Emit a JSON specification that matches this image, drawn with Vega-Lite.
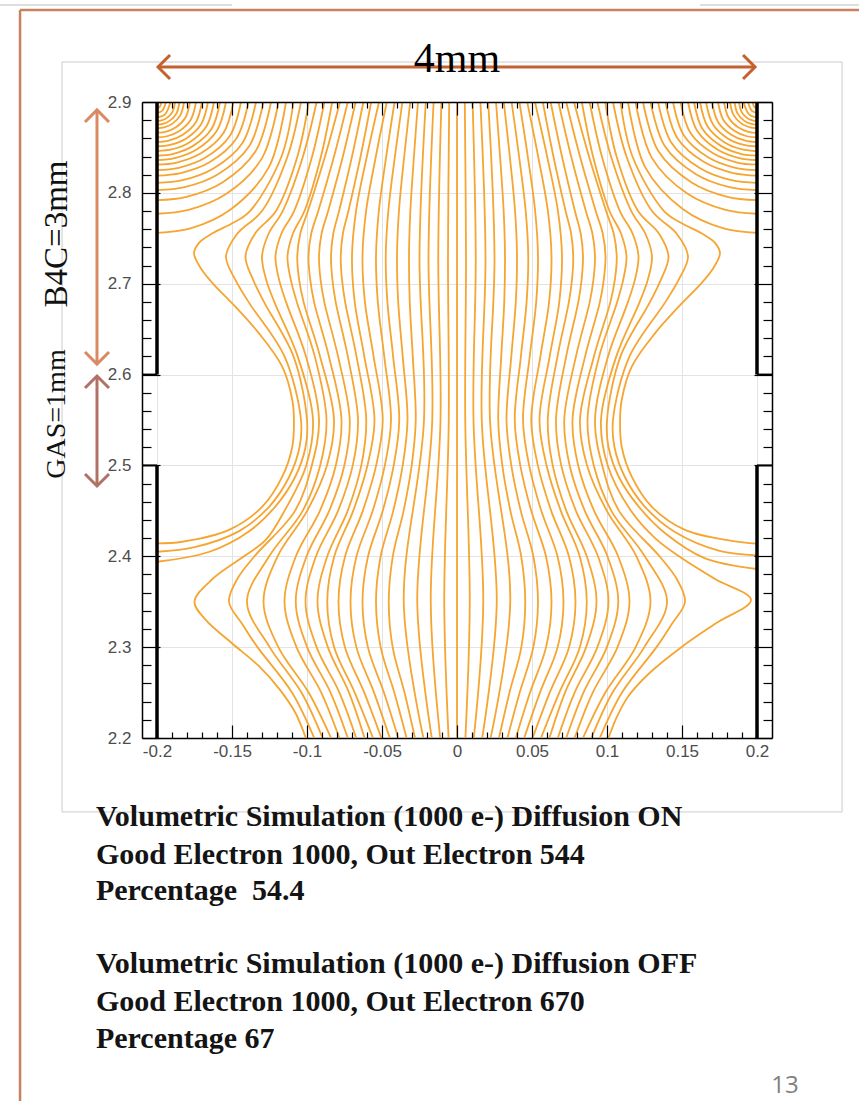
{
"$schema":"https://vega.github.io/schema/vega-lite/v6.json",
"width":630,"height":636,
"autosize":{"type":"none"},
"padding":{"left":142,"top":102,"right":87,"bottom":363},
"background":"#ffffff",
"config":{"view":{"stroke":null}},
"datasets":{"lines":[
{"s":0,"x":0,"y":2.9},{"s":0,"x":0,"y":2.2},
{"s":101,"x":-0.0052,"y":2.9},{"s":101,"x":-0.006,"y":2.73},{"s":101,"x":-0.0055,"y":2.55},{"s":101,"x":-0.0085,"y":2.35},{"s":101,"x":-0.0056,"y":2.2},
{"s":201,"x":0.0052,"y":2.9},{"s":201,"x":0.006,"y":2.73},{"s":201,"x":0.0055,"y":2.55},{"s":201,"x":0.0085,"y":2.35},{"s":201,"x":0.0056,"y":2.2},
{"s":102,"x":-0.0104,"y":2.9},{"s":102,"x":-0.0125,"y":2.73},{"s":102,"x":-0.011,"y":2.55},{"s":102,"x":-0.0175,"y":2.35},{"s":102,"x":-0.0112,"y":2.2},
{"s":202,"x":0.0104,"y":2.9},{"s":202,"x":0.0125,"y":2.73},{"s":202,"x":0.011,"y":2.55},{"s":202,"x":0.0175,"y":2.35},{"s":202,"x":0.0112,"y":2.2},
{"s":103,"x":-0.0156,"y":2.9},{"s":103,"x":-0.019,"y":2.73},{"s":103,"x":-0.0165,"y":2.55},{"s":103,"x":-0.0265,"y":2.35},{"s":103,"x":-0.0168,"y":2.2},
{"s":203,"x":0.0156,"y":2.9},{"s":203,"x":0.019,"y":2.73},{"s":203,"x":0.0165,"y":2.55},{"s":203,"x":0.0265,"y":2.35},{"s":203,"x":0.0168,"y":2.2},
{"s":104,"x":-0.0208,"y":2.9},{"s":104,"x":-0.025,"y":2.73},{"s":104,"x":-0.022,"y":2.55},{"s":104,"x":-0.0355,"y":2.35},{"s":104,"x":-0.0224,"y":2.2},
{"s":204,"x":0.0208,"y":2.9},{"s":204,"x":0.025,"y":2.73},{"s":204,"x":0.022,"y":2.55},{"s":204,"x":0.0355,"y":2.35},{"s":204,"x":0.0224,"y":2.2},
{"s":105,"x":-0.026,"y":2.9},{"s":105,"x":-0.0287,"y":2.84},{"s":105,"x":-0.0311,"y":2.78},{"s":105,"x":-0.032,"y":2.73},{"s":105,"x":-0.0315,"y":2.68},{"s":105,"x":-0.0295,"y":2.62},{"s":105,"x":-0.0275,"y":2.55},{"s":105,"x":-0.0302,"y":2.5},{"s":105,"x":-0.0356,"y":2.45},{"s":105,"x":-0.0428,"y":2.4},{"s":105,"x":-0.0455,"y":2.35},{"s":105,"x":-0.0429,"y":2.3},{"s":105,"x":-0.035,"y":2.25},{"s":105,"x":-0.028,"y":2.2},
{"s":205,"x":0.026,"y":2.9},{"s":205,"x":0.0287,"y":2.84},{"s":205,"x":0.0311,"y":2.78},{"s":205,"x":0.032,"y":2.73},{"s":205,"x":0.0315,"y":2.68},{"s":205,"x":0.0295,"y":2.62},{"s":205,"x":0.0275,"y":2.55},{"s":205,"x":0.0302,"y":2.5},{"s":205,"x":0.0356,"y":2.45},{"s":205,"x":0.0428,"y":2.4},{"s":205,"x":0.0455,"y":2.35},{"s":205,"x":0.0429,"y":2.3},{"s":205,"x":0.035,"y":2.25},{"s":205,"x":0.028,"y":2.2},
{"s":106,"x":-0.0312,"y":2.9},{"s":106,"x":-0.0352,"y":2.84},{"s":106,"x":-0.0387,"y":2.78},{"s":106,"x":-0.04,"y":2.73},{"s":106,"x":-0.0392,"y":2.68},{"s":106,"x":-0.0362,"y":2.62},{"s":106,"x":-0.033,"y":2.55},{"s":106,"x":-0.0362,"y":2.5},{"s":106,"x":-0.0425,"y":2.45},{"s":106,"x":-0.0509,"y":2.4},{"s":106,"x":-0.054,"y":2.35},{"s":106,"x":-0.0509,"y":2.3},{"s":106,"x":-0.0418,"y":2.25},{"s":106,"x":-0.0336,"y":2.2},
{"s":206,"x":0.0312,"y":2.9},{"s":206,"x":0.0352,"y":2.84},{"s":206,"x":0.0387,"y":2.78},{"s":206,"x":0.04,"y":2.73},{"s":206,"x":0.0392,"y":2.68},{"s":206,"x":0.0362,"y":2.62},{"s":206,"x":0.033,"y":2.55},{"s":206,"x":0.0362,"y":2.5},{"s":206,"x":0.0425,"y":2.45},{"s":206,"x":0.0509,"y":2.4},{"s":206,"x":0.054,"y":2.35},{"s":206,"x":0.0509,"y":2.3},{"s":206,"x":0.0418,"y":2.25},{"s":206,"x":0.0336,"y":2.2},
{"s":107,"x":-0.0364,"y":2.9},{"s":107,"x":-0.0414,"y":2.84},{"s":107,"x":-0.0458,"y":2.78},{"s":107,"x":-0.0475,"y":2.73},{"s":107,"x":-0.0464,"y":2.68},{"s":107,"x":-0.0426,"y":2.62},{"s":107,"x":-0.0385,"y":2.55},{"s":107,"x":-0.0422,"y":2.5},{"s":107,"x":-0.0495,"y":2.45},{"s":107,"x":-0.0593,"y":2.4},{"s":107,"x":-0.063,"y":2.35},{"s":107,"x":-0.0594,"y":2.3},{"s":107,"x":-0.0487,"y":2.25},{"s":107,"x":-0.0392,"y":2.2},
{"s":207,"x":0.0364,"y":2.9},{"s":207,"x":0.0414,"y":2.84},{"s":207,"x":0.0458,"y":2.78},{"s":207,"x":0.0475,"y":2.73},{"s":207,"x":0.0464,"y":2.68},{"s":207,"x":0.0426,"y":2.62},{"s":207,"x":0.0385,"y":2.55},{"s":207,"x":0.0422,"y":2.5},{"s":207,"x":0.0495,"y":2.45},{"s":207,"x":0.0593,"y":2.4},{"s":207,"x":0.063,"y":2.35},{"s":207,"x":0.0594,"y":2.3},{"s":207,"x":0.0487,"y":2.25},{"s":207,"x":0.0392,"y":2.2},
{"s":108,"x":-0.0416,"y":2.9},{"s":108,"x":-0.0472,"y":2.84},{"s":108,"x":-0.0521,"y":2.78},{"s":108,"x":-0.054,"y":2.73},{"s":108,"x":-0.0528,"y":2.68},{"s":108,"x":-0.0485,"y":2.62},{"s":108,"x":-0.044,"y":2.55},{"s":108,"x":-0.0481,"y":2.5},{"s":108,"x":-0.0562,"y":2.45},{"s":108,"x":-0.067,"y":2.4},{"s":108,"x":-0.071,"y":2.35},{"s":108,"x":-0.0671,"y":2.3},{"s":108,"x":-0.0553,"y":2.25},{"s":108,"x":-0.0448,"y":2.2},
{"s":208,"x":0.0416,"y":2.9},{"s":208,"x":0.0472,"y":2.84},{"s":208,"x":0.0521,"y":2.78},{"s":208,"x":0.054,"y":2.73},{"s":208,"x":0.0528,"y":2.68},{"s":208,"x":0.0485,"y":2.62},{"s":208,"x":0.044,"y":2.55},{"s":208,"x":0.0481,"y":2.5},{"s":208,"x":0.0562,"y":2.45},{"s":208,"x":0.067,"y":2.4},{"s":208,"x":0.071,"y":2.35},{"s":208,"x":0.0671,"y":2.3},{"s":208,"x":0.0553,"y":2.25},{"s":208,"x":0.0448,"y":2.2},
{"s":109,"x":-0.0468,"y":2.9},{"s":109,"x":-0.0541,"y":2.84},{"s":109,"x":-0.0606,"y":2.78},{"s":109,"x":-0.063,"y":2.73},{"s":109,"x":-0.0614,"y":2.68},{"s":109,"x":-0.0556,"y":2.62},{"s":109,"x":-0.0495,"y":2.55},{"s":109,"x":-0.0539,"y":2.5},{"s":109,"x":-0.0628,"y":2.45},{"s":109,"x":-0.0746,"y":2.4},{"s":109,"x":-0.079,"y":2.35},{"s":109,"x":-0.0747,"y":2.3},{"s":109,"x":-0.0618,"y":2.25},{"s":109,"x":-0.0504,"y":2.2},
{"s":209,"x":0.0468,"y":2.9},{"s":209,"x":0.0541,"y":2.84},{"s":209,"x":0.0606,"y":2.78},{"s":209,"x":0.063,"y":2.73},{"s":209,"x":0.0614,"y":2.68},{"s":209,"x":0.0556,"y":2.62},{"s":209,"x":0.0495,"y":2.55},{"s":209,"x":0.0539,"y":2.5},{"s":209,"x":0.0628,"y":2.45},{"s":209,"x":0.0746,"y":2.4},{"s":209,"x":0.079,"y":2.35},{"s":209,"x":0.0747,"y":2.3},{"s":209,"x":0.0618,"y":2.25},{"s":209,"x":0.0504,"y":2.2},
{"s":110,"x":-0.052,"y":2.9},{"s":110,"x":-0.0601,"y":2.84},{"s":110,"x":-0.0673,"y":2.78},{"s":110,"x":-0.07,"y":2.73},{"s":110,"x":-0.0682,"y":2.68},{"s":110,"x":-0.0618,"y":2.62},{"s":110,"x":-0.055,"y":2.55},{"s":110,"x":-0.0597,"y":2.5},{"s":110,"x":-0.0692,"y":2.45},{"s":110,"x":-0.0818,"y":2.4},{"s":110,"x":-0.0865,"y":2.35},{"s":110,"x":-0.0819,"y":2.3},{"s":110,"x":-0.0682,"y":2.25},{"s":110,"x":-0.056,"y":2.2},
{"s":210,"x":0.052,"y":2.9},{"s":210,"x":0.0601,"y":2.84},{"s":210,"x":0.0673,"y":2.78},{"s":210,"x":0.07,"y":2.73},{"s":210,"x":0.0682,"y":2.68},{"s":210,"x":0.0618,"y":2.62},{"s":210,"x":0.055,"y":2.55},{"s":210,"x":0.0597,"y":2.5},{"s":210,"x":0.0692,"y":2.45},{"s":210,"x":0.0818,"y":2.4},{"s":210,"x":0.0865,"y":2.35},{"s":210,"x":0.0819,"y":2.3},{"s":210,"x":0.0682,"y":2.25},{"s":210,"x":0.056,"y":2.2},
{"s":111,"x":-0.0572,"y":2.9},{"s":111,"x":-0.0643,"y":2.84},{"s":111,"x":-0.0724,"y":2.78},{"s":111,"x":-0.0761,"y":2.755},{"s":111,"x":-0.0775,"y":2.73},{"s":111,"x":-0.0767,"y":2.705},{"s":111,"x":-0.0746,"y":2.68},{"s":111,"x":-0.067,"y":2.62},{"s":111,"x":-0.0605,"y":2.55},{"s":111,"x":-0.0638,"y":2.5},{"s":111,"x":-0.0729,"y":2.45},{"s":111,"x":-0.0865,"y":2.4},{"s":111,"x":-0.093,"y":2.35},{"s":111,"x":-0.0861,"y":2.3},{"s":111,"x":-0.072,"y":2.25},{"s":111,"x":-0.0616,"y":2.2},
{"s":211,"x":0.0572,"y":2.9},{"s":211,"x":0.0643,"y":2.84},{"s":211,"x":0.0724,"y":2.78},{"s":211,"x":0.0761,"y":2.755},{"s":211,"x":0.0775,"y":2.73},{"s":211,"x":0.0767,"y":2.705},{"s":211,"x":0.0746,"y":2.68},{"s":211,"x":0.067,"y":2.62},{"s":211,"x":0.0605,"y":2.55},{"s":211,"x":0.0638,"y":2.5},{"s":211,"x":0.0729,"y":2.45},{"s":211,"x":0.0865,"y":2.4},{"s":211,"x":0.093,"y":2.35},{"s":211,"x":0.0861,"y":2.3},{"s":211,"x":0.072,"y":2.25},{"s":211,"x":0.0616,"y":2.2},
{"s":112,"x":-0.0624,"y":2.9},{"s":112,"x":-0.07,"y":2.84},{"s":112,"x":-0.0786,"y":2.78},{"s":112,"x":-0.0825,"y":2.755},{"s":112,"x":-0.084,"y":2.73},{"s":112,"x":-0.0831,"y":2.705},{"s":112,"x":-0.0809,"y":2.68},{"s":112,"x":-0.0728,"y":2.62},{"s":112,"x":-0.066,"y":2.55},{"s":112,"x":-0.0695,"y":2.5},{"s":112,"x":-0.0793,"y":2.45},{"s":112,"x":-0.094,"y":2.4},{"s":112,"x":-0.101,"y":2.35},{"s":112,"x":-0.0936,"y":2.3},{"s":112,"x":-0.0784,"y":2.25},{"s":112,"x":-0.0672,"y":2.2},
{"s":212,"x":0.0624,"y":2.9},{"s":212,"x":0.07,"y":2.84},{"s":212,"x":0.0786,"y":2.78},{"s":212,"x":0.0825,"y":2.755},{"s":212,"x":0.084,"y":2.73},{"s":212,"x":0.0831,"y":2.705},{"s":212,"x":0.0809,"y":2.68},{"s":212,"x":0.0728,"y":2.62},{"s":212,"x":0.066,"y":2.55},{"s":212,"x":0.0695,"y":2.5},{"s":212,"x":0.0793,"y":2.45},{"s":212,"x":0.094,"y":2.4},{"s":212,"x":0.101,"y":2.35},{"s":212,"x":0.0936,"y":2.3},{"s":212,"x":0.0784,"y":2.25},{"s":212,"x":0.0672,"y":2.2},
{"s":113,"x":-0.0676,"y":2.9},{"s":113,"x":-0.0761,"y":2.84},{"s":113,"x":-0.0859,"y":2.78},{"s":113,"x":-0.0903,"y":2.755},{"s":113,"x":-0.092,"y":2.73},{"s":113,"x":-0.091,"y":2.705},{"s":113,"x":-0.0885,"y":2.68},{"s":113,"x":-0.0793,"y":2.62},{"s":113,"x":-0.0715,"y":2.55},{"s":113,"x":-0.0751,"y":2.5},{"s":113,"x":-0.0852,"y":2.45},{"s":113,"x":-0.1003,"y":2.4},{"s":113,"x":-0.1075,"y":2.35},{"s":113,"x":-0.0999,"y":2.3},{"s":113,"x":-0.0843,"y":2.25},{"s":113,"x":-0.0728,"y":2.2},
{"s":213,"x":0.0676,"y":2.9},{"s":213,"x":0.0761,"y":2.84},{"s":213,"x":0.0859,"y":2.78},{"s":213,"x":0.0903,"y":2.755},{"s":213,"x":0.092,"y":2.73},{"s":213,"x":0.091,"y":2.705},{"s":213,"x":0.0885,"y":2.68},{"s":213,"x":0.0793,"y":2.62},{"s":213,"x":0.0715,"y":2.55},{"s":213,"x":0.0751,"y":2.5},{"s":213,"x":0.0852,"y":2.45},{"s":213,"x":0.1003,"y":2.4},{"s":213,"x":0.1075,"y":2.35},{"s":213,"x":0.0999,"y":2.3},{"s":213,"x":0.0843,"y":2.25},{"s":213,"x":0.0728,"y":2.2},
{"s":114,"x":-0.0728,"y":2.9},{"s":114,"x":-0.082,"y":2.84},{"s":114,"x":-0.0925,"y":2.78},{"s":114,"x":-0.0972,"y":2.755},{"s":114,"x":-0.099,"y":2.73},{"s":114,"x":-0.0979,"y":2.705},{"s":114,"x":-0.0953,"y":2.68},{"s":114,"x":-0.0854,"y":2.62},{"s":114,"x":-0.077,"y":2.55},{"s":114,"x":-0.0808,"y":2.5},{"s":114,"x":-0.0914,"y":2.45},{"s":114,"x":-0.1074,"y":2.4},{"s":114,"x":-0.115,"y":2.35},{"s":114,"x":-0.107,"y":2.3},{"s":114,"x":-0.0905,"y":2.25},{"s":114,"x":-0.0784,"y":2.2},
{"s":214,"x":0.0728,"y":2.9},{"s":214,"x":0.082,"y":2.84},{"s":214,"x":0.0925,"y":2.78},{"s":214,"x":0.0972,"y":2.755},{"s":214,"x":0.099,"y":2.73},{"s":214,"x":0.0979,"y":2.705},{"s":214,"x":0.0953,"y":2.68},{"s":214,"x":0.0854,"y":2.62},{"s":214,"x":0.077,"y":2.55},{"s":214,"x":0.0808,"y":2.5},{"s":214,"x":0.0914,"y":2.45},{"s":214,"x":0.1074,"y":2.4},{"s":214,"x":0.115,"y":2.35},{"s":214,"x":0.107,"y":2.3},{"s":214,"x":0.0905,"y":2.25},{"s":214,"x":0.0784,"y":2.2},
{"s":115,"x":-0.078,"y":2.9},{"s":115,"x":-0.088,"y":2.84},{"s":115,"x":-0.0994,"y":2.78},{"s":115,"x":-0.1045,"y":2.755},{"s":115,"x":-0.1065,"y":2.73},{"s":115,"x":-0.1053,"y":2.705},{"s":115,"x":-0.1023,"y":2.68},{"s":115,"x":-0.0913,"y":2.62},{"s":115,"x":-0.082,"y":2.55},{"s":115,"x":-0.0867,"y":2.5},{"s":115,"x":-0.0999,"y":2.45},{"s":115,"x":-0.1196,"y":2.4},{"s":115,"x":-0.129,"y":2.35},{"s":115,"x":-0.1191,"y":2.3},{"s":115,"x":-0.0989,"y":2.25},{"s":115,"x":-0.084,"y":2.2},
{"s":215,"x":0.078,"y":2.9},{"s":215,"x":0.088,"y":2.84},{"s":215,"x":0.0994,"y":2.78},{"s":215,"x":0.1045,"y":2.755},{"s":215,"x":0.1065,"y":2.73},{"s":215,"x":0.1053,"y":2.705},{"s":215,"x":0.1023,"y":2.68},{"s":215,"x":0.0913,"y":2.62},{"s":215,"x":0.082,"y":2.55},{"s":215,"x":0.0867,"y":2.5},{"s":215,"x":0.0999,"y":2.45},{"s":215,"x":0.1196,"y":2.4},{"s":215,"x":0.129,"y":2.35},{"s":215,"x":0.1191,"y":2.3},{"s":215,"x":0.0989,"y":2.25},{"s":215,"x":0.084,"y":2.2},
{"s":116,"x":-0.0832,"y":2.9},{"s":116,"x":-0.0907,"y":2.84},{"s":116,"x":-0.1017,"y":2.78},{"s":116,"x":-0.1094,"y":2.755},{"s":116,"x":-0.113,"y":2.73},{"s":116,"x":-0.1109,"y":2.705},{"s":116,"x":-0.1068,"y":2.68},{"s":116,"x":-0.0948,"y":2.62},{"s":116,"x":-0.087,"y":2.55},{"s":116,"x":-0.0912,"y":2.5},{"s":116,"x":-0.1029,"y":2.45},{"s":116,"x":-0.1252,"y":2.4},{"s":116,"x":-0.14,"y":2.35},{"s":116,"x":-0.1249,"y":2.3},{"s":116,"x":-0.1037,"y":2.25},{"s":116,"x":-0.0896,"y":2.2},
{"s":216,"x":0.0832,"y":2.9},{"s":216,"x":0.0907,"y":2.84},{"s":216,"x":0.1017,"y":2.78},{"s":216,"x":0.1094,"y":2.755},{"s":216,"x":0.113,"y":2.73},{"s":216,"x":0.1109,"y":2.705},{"s":216,"x":0.1068,"y":2.68},{"s":216,"x":0.0948,"y":2.62},{"s":216,"x":0.087,"y":2.55},{"s":216,"x":0.0912,"y":2.5},{"s":216,"x":0.1029,"y":2.45},{"s":216,"x":0.1252,"y":2.4},{"s":216,"x":0.14,"y":2.35},{"s":216,"x":0.1249,"y":2.3},{"s":216,"x":0.1037,"y":2.25},{"s":216,"x":0.0896,"y":2.2},
{"s":117,"x":-0.0884,"y":2.9},{"s":117,"x":-0.0966,"y":2.84},{"s":117,"x":-0.1086,"y":2.78},{"s":117,"x":-0.1171,"y":2.755},{"s":117,"x":-0.121,"y":2.73},{"s":117,"x":-0.1187,"y":2.705},{"s":117,"x":-0.114,"y":2.68},{"s":117,"x":-0.1007,"y":2.62},{"s":117,"x":-0.092,"y":2.55},{"s":117,"x":-0.0968,"y":2.5},{"s":117,"x":-0.108,"y":2.45},{"s":117,"x":-0.135,"y":2.4},{"s":117,"x":-0.1465,"y":2.375},{"s":117,"x":-0.152,"y":2.35},{"s":117,"x":-0.143,"y":2.325},{"s":117,"x":-0.133,"y":2.3},{"s":117,"x":-0.11,"y":2.25},{"s":117,"x":-0.0952,"y":2.2},
{"s":217,"x":0.0884,"y":2.9},{"s":217,"x":0.0966,"y":2.84},{"s":217,"x":0.1086,"y":2.78},{"s":217,"x":0.1171,"y":2.755},{"s":217,"x":0.121,"y":2.73},{"s":217,"x":0.1187,"y":2.705},{"s":217,"x":0.114,"y":2.68},{"s":217,"x":0.1007,"y":2.62},{"s":217,"x":0.092,"y":2.55},{"s":217,"x":0.0968,"y":2.5},{"s":217,"x":0.108,"y":2.45},{"s":217,"x":0.135,"y":2.4},{"s":217,"x":0.1465,"y":2.375},{"s":217,"x":0.152,"y":2.35},{"s":217,"x":0.143,"y":2.325},{"s":217,"x":0.133,"y":2.3},{"s":217,"x":0.11,"y":2.25},{"s":217,"x":0.0952,"y":2.2},
{"s":118,"x":-0.0936,"y":2.9},{"s":118,"x":-0.1027,"y":2.84},{"s":118,"x":-0.1162,"y":2.78},{"s":118,"x":-0.1256,"y":2.755},{"s":118,"x":-0.13,"y":2.73},{"s":118,"x":-0.1273,"y":2.705},{"s":118,"x":-0.1218,"y":2.68},{"s":118,"x":-0.1062,"y":2.62},{"s":118,"x":-0.096,"y":2.55},{"s":118,"x":-0.1005,"y":2.5},{"s":118,"x":-0.115,"y":2.45},{"s":118,"x":-0.1275,"y":2.418},{"s":118,"x":-0.142,"y":2.4},{"s":118,"x":-0.163,"y":2.375},{"s":118,"x":-0.175,"y":2.35},{"s":118,"x":-0.1675,"y":2.33},{"s":118,"x":-0.1498,"y":2.304},{"s":118,"x":-0.132,"y":2.279},{"s":118,"x":-0.118,"y":2.253},{"s":118,"x":-0.1075,"y":2.227},{"s":118,"x":-0.1008,"y":2.2},
{"s":218,"x":0.0936,"y":2.9},{"s":218,"x":0.1027,"y":2.84},{"s":218,"x":0.1162,"y":2.78},{"s":218,"x":0.1256,"y":2.755},{"s":218,"x":0.13,"y":2.73},{"s":218,"x":0.1273,"y":2.705},{"s":218,"x":0.1218,"y":2.68},{"s":218,"x":0.1062,"y":2.62},{"s":218,"x":0.096,"y":2.55},{"s":218,"x":0.1005,"y":2.5},{"s":218,"x":0.116,"y":2.45},{"s":218,"x":0.132,"y":2.42},{"s":218,"x":0.148,"y":2.4},{"s":218,"x":0.172,"y":2.375},{"s":218,"x":0.196,"y":2.352},{"s":218,"x":0.1724,"y":2.326},{"s":218,"x":0.15,"y":2.3005},{"s":218,"x":0.128,"y":2.271},{"s":218,"x":0.114,"y":2.2455},{"s":218,"x":0.1065,"y":2.223},{"s":218,"x":0.101,"y":2.2},
{"s":119,"x":-0.0988,"y":2.9},{"s":119,"x":-0.1064,"y":2.84},{"s":119,"x":-0.1207,"y":2.78},{"s":119,"x":-0.1347,"y":2.755},{"s":119,"x":-0.141,"y":2.73},{"s":119,"x":-0.1361,"y":2.705},{"s":119,"x":-0.1287,"y":2.68},{"s":119,"x":-0.109,"y":2.62},{"s":119,"x":-0.1,"y":2.55},{"s":119,"x":-0.101,"y":2.52},{"s":119,"x":-0.108,"y":2.487},{"s":119,"x":-0.121,"y":2.455},{"s":119,"x":-0.139,"y":2.427},{"s":119,"x":-0.165,"y":2.405},{"s":119,"x":-0.2,"y":2.394},
{"s":219,"x":0.0988,"y":2.9},{"s":219,"x":0.1064,"y":2.84},{"s":219,"x":0.1207,"y":2.78},{"s":219,"x":0.1347,"y":2.755},{"s":219,"x":0.141,"y":2.73},{"s":219,"x":0.1361,"y":2.705},{"s":219,"x":0.1287,"y":2.68},{"s":219,"x":0.109,"y":2.62},{"s":219,"x":0.1,"y":2.55},{"s":219,"x":0.101,"y":2.52},{"s":219,"x":0.108,"y":2.487},{"s":219,"x":0.121,"y":2.455},{"s":219,"x":0.139,"y":2.425},{"s":219,"x":0.165,"y":2.398},{"s":219,"x":0.2,"y":2.386},
{"s":120,"x":-0.104,"y":2.9},{"s":120,"x":-0.113,"y":2.84},{"s":120,"x":-0.13,"y":2.78},{"s":120,"x":-0.1465,"y":2.755},{"s":120,"x":-0.154,"y":2.73},{"s":120,"x":-0.148,"y":2.705},{"s":120,"x":-0.139,"y":2.68},{"s":120,"x":-0.115,"y":2.62},{"s":120,"x":-0.104,"y":2.55},{"s":120,"x":-0.105,"y":2.52},{"s":120,"x":-0.112,"y":2.487},{"s":120,"x":-0.125,"y":2.455},{"s":120,"x":-0.145,"y":2.428},{"s":120,"x":-0.175,"y":2.41},{"s":120,"x":-0.2,"y":2.405},
{"s":220,"x":0.104,"y":2.9},{"s":220,"x":0.113,"y":2.84},{"s":220,"x":0.13,"y":2.78},{"s":220,"x":0.1465,"y":2.755},{"s":220,"x":0.154,"y":2.73},{"s":220,"x":0.148,"y":2.705},{"s":220,"x":0.139,"y":2.68},{"s":220,"x":0.115,"y":2.62},{"s":220,"x":0.104,"y":2.55},{"s":220,"x":0.105,"y":2.52},{"s":220,"x":0.112,"y":2.487},{"s":220,"x":0.125,"y":2.455},{"s":220,"x":0.145,"y":2.427},{"s":220,"x":0.175,"y":2.406},{"s":220,"x":0.2,"y":2.401},
{"s":121,"x":-0.109,"y":2.9},{"s":121,"x":-0.117,"y":2.84},{"s":121,"x":-0.138,"y":2.78},{"s":121,"x":-0.1498,"y":2.7665},{"s":121,"x":-0.163,"y":2.7555},{"s":121,"x":-0.172,"y":2.745},{"s":121,"x":-0.1753,"y":2.7335},{"s":121,"x":-0.17,"y":2.715},{"s":121,"x":-0.161,"y":2.697},{"s":121,"x":-0.152,"y":2.682},{"s":121,"x":-0.132,"y":2.6454},{"s":121,"x":-0.1165,"y":2.6087},{"s":121,"x":-0.1098,"y":2.572},{"s":121,"x":-0.1087,"y":2.55},{"s":121,"x":-0.1098,"y":2.5206},{"s":121,"x":-0.1165,"y":2.4876},{"s":121,"x":-0.1298,"y":2.4546},{"s":121,"x":-0.152,"y":2.429},{"s":121,"x":-0.1831,"y":2.416},{"s":121,"x":-0.2,"y":2.4143},
{"s":221,"x":0.109,"y":2.9},{"s":221,"x":0.117,"y":2.84},{"s":221,"x":0.138,"y":2.78},{"s":221,"x":0.1498,"y":2.7665},{"s":221,"x":0.163,"y":2.7555},{"s":221,"x":0.172,"y":2.745},{"s":221,"x":0.1753,"y":2.7335},{"s":221,"x":0.17,"y":2.715},{"s":221,"x":0.161,"y":2.697},{"s":221,"x":0.152,"y":2.682},{"s":221,"x":0.132,"y":2.6454},{"s":221,"x":0.1165,"y":2.6087},{"s":221,"x":0.1098,"y":2.572},{"s":221,"x":0.1087,"y":2.55},{"s":221,"x":0.1098,"y":2.5206},{"s":221,"x":0.1165,"y":2.4876},{"s":221,"x":0.1298,"y":2.4546},{"s":221,"x":0.152,"y":2.429},{"s":221,"x":0.1831,"y":2.417},{"s":221,"x":0.2,"y":2.414},
{"s":301,"x":-0.114,"y":2.9},{"s":301,"x":-0.1255,"y":2.828},{"s":301,"x":-0.1507,"y":2.782},{"s":301,"x":-0.1777,"y":2.7609},{"s":301,"x":-0.2,"y":2.756},
{"s":302,"x":-0.119,"y":2.9},{"s":302,"x":-0.1299,"y":2.8385},{"s":302,"x":-0.1535,"y":2.7992},{"s":302,"x":-0.179,"y":2.7812},{"s":302,"x":-0.2,"y":2.777},
{"s":303,"x":-0.124,"y":2.9},{"s":303,"x":-0.1342,"y":2.846},{"s":303,"x":-0.1564,"y":2.8115},{"s":303,"x":-0.1803,"y":2.7957},{"s":303,"x":-0.2,"y":2.792},
{"s":304,"x":-0.129,"y":2.9},{"s":304,"x":-0.1385,"y":2.8515},{"s":304,"x":-0.1593,"y":2.8205},{"s":304,"x":-0.1816,"y":2.8063},{"s":304,"x":-0.2,"y":2.803},
{"s":305,"x":-0.134,"y":2.9},{"s":305,"x":-0.1428,"y":2.8555},{"s":305,"x":-0.1621,"y":2.8271},{"s":305,"x":-0.1829,"y":2.814},{"s":305,"x":-0.2,"y":2.811},
{"s":306,"x":-0.139,"y":2.9},{"s":306,"x":-0.1472,"y":2.8595},{"s":306,"x":-0.165,"y":2.8336},{"s":306,"x":-0.1842,"y":2.8218},{"s":306,"x":-0.2,"y":2.819},
{"s":307,"x":-0.144,"y":2.9},{"s":307,"x":-0.1515,"y":2.8625},{"s":307,"x":-0.1679,"y":2.8386},{"s":307,"x":-0.1855,"y":2.8276},{"s":307,"x":-0.2,"y":2.825},
{"s":308,"x":-0.149,"y":2.9},{"s":308,"x":-0.1558,"y":2.8655},{"s":308,"x":-0.1707,"y":2.8435},{"s":308,"x":-0.1868,"y":2.8334},{"s":308,"x":-0.2,"y":2.831},
{"s":309,"x":-0.154,"y":2.9},{"s":309,"x":-0.1602,"y":2.868},{"s":309,"x":-0.1736,"y":2.8476},{"s":309,"x":-0.1881,"y":2.8382},{"s":309,"x":-0.2,"y":2.836},
{"s":310,"x":-0.158,"y":2.9},{"s":310,"x":-0.1636,"y":2.8705},{"s":310,"x":-0.1759,"y":2.8517},{"s":310,"x":-0.1891,"y":2.843},{"s":310,"x":-0.2,"y":2.841},
{"s":311,"x":-0.162,"y":2.9},{"s":311,"x":-0.1671,"y":2.873},{"s":311,"x":-0.1782,"y":2.8558},{"s":311,"x":-0.1902,"y":2.8478},{"s":311,"x":-0.2,"y":2.846},
{"s":312,"x":-0.166,"y":2.9},{"s":312,"x":-0.1706,"y":2.8755},{"s":312,"x":-0.1805,"y":2.8599},{"s":312,"x":-0.1912,"y":2.8527},{"s":312,"x":-0.2,"y":2.851},
{"s":313,"x":-0.17,"y":2.9},{"s":313,"x":-0.174,"y":2.878},{"s":313,"x":-0.1828,"y":2.864},{"s":313,"x":-0.1922,"y":2.8575},{"s":313,"x":-0.2,"y":2.856},
{"s":314,"x":-0.174,"y":2.9},{"s":314,"x":-0.1775,"y":2.8805},{"s":314,"x":-0.1851,"y":2.8681},{"s":314,"x":-0.1933,"y":2.8623},{"s":314,"x":-0.2,"y":2.861},
{"s":315,"x":-0.178,"y":2.9},{"s":315,"x":-0.181,"y":2.883},{"s":315,"x":-0.1874,"y":2.8722},{"s":315,"x":-0.1943,"y":2.8672},{"s":315,"x":-0.2,"y":2.866},
{"s":316,"x":-0.182,"y":2.9},{"s":316,"x":-0.1844,"y":2.8855},{"s":316,"x":-0.1897,"y":2.8762},{"s":316,"x":-0.1953,"y":2.872},{"s":316,"x":-0.2,"y":2.871},
{"s":317,"x":-0.185,"y":2.9},{"s":317,"x":-0.187,"y":2.8875},{"s":317,"x":-0.1914,"y":2.8795},{"s":317,"x":-0.1961,"y":2.8759},{"s":317,"x":-0.2,"y":2.875},
{"s":318,"x":-0.188,"y":2.9},{"s":318,"x":-0.1896,"y":2.8895},{"s":318,"x":-0.1931,"y":2.8828},{"s":318,"x":-0.1969,"y":2.8797},{"s":318,"x":-0.2,"y":2.879},
{"s":319,"x":-0.191,"y":2.9},{"s":319,"x":-0.1948,"y":2.8861},{"s":319,"x":-0.2,"y":2.883},
{"s":320,"x":-0.194,"y":2.9},{"s":320,"x":-0.1966,"y":2.8902},{"s":320,"x":-0.2,"y":2.888},
{"s":321,"x":-0.197,"y":2.9},{"s":321,"x":-0.1983,"y":2.8943},{"s":321,"x":-0.2,"y":2.893},
{"s":401,"x":0.114,"y":2.9},{"s":401,"x":0.1255,"y":2.828},{"s":401,"x":0.1507,"y":2.782},{"s":401,"x":0.1777,"y":2.7609},{"s":401,"x":0.2,"y":2.756},
{"s":402,"x":0.119,"y":2.9},{"s":402,"x":0.1299,"y":2.8385},{"s":402,"x":0.1535,"y":2.7992},{"s":402,"x":0.179,"y":2.7812},{"s":402,"x":0.2,"y":2.777},
{"s":403,"x":0.124,"y":2.9},{"s":403,"x":0.1342,"y":2.846},{"s":403,"x":0.1564,"y":2.8115},{"s":403,"x":0.1803,"y":2.7957},{"s":403,"x":0.2,"y":2.792},
{"s":404,"x":0.129,"y":2.9},{"s":404,"x":0.1385,"y":2.8515},{"s":404,"x":0.1593,"y":2.8205},{"s":404,"x":0.1816,"y":2.8063},{"s":404,"x":0.2,"y":2.803},
{"s":405,"x":0.134,"y":2.9},{"s":405,"x":0.1428,"y":2.8555},{"s":405,"x":0.1621,"y":2.8271},{"s":405,"x":0.1829,"y":2.814},{"s":405,"x":0.2,"y":2.811},
{"s":406,"x":0.139,"y":2.9},{"s":406,"x":0.1472,"y":2.8595},{"s":406,"x":0.165,"y":2.8336},{"s":406,"x":0.1842,"y":2.8218},{"s":406,"x":0.2,"y":2.819},
{"s":407,"x":0.144,"y":2.9},{"s":407,"x":0.1515,"y":2.8625},{"s":407,"x":0.1679,"y":2.8386},{"s":407,"x":0.1855,"y":2.8276},{"s":407,"x":0.2,"y":2.825},
{"s":408,"x":0.149,"y":2.9},{"s":408,"x":0.1558,"y":2.8655},{"s":408,"x":0.1707,"y":2.8435},{"s":408,"x":0.1868,"y":2.8334},{"s":408,"x":0.2,"y":2.831},
{"s":409,"x":0.154,"y":2.9},{"s":409,"x":0.1602,"y":2.868},{"s":409,"x":0.1736,"y":2.8476},{"s":409,"x":0.1881,"y":2.8382},{"s":409,"x":0.2,"y":2.836},
{"s":410,"x":0.158,"y":2.9},{"s":410,"x":0.1636,"y":2.8705},{"s":410,"x":0.1759,"y":2.8517},{"s":410,"x":0.1891,"y":2.843},{"s":410,"x":0.2,"y":2.841},
{"s":411,"x":0.162,"y":2.9},{"s":411,"x":0.1671,"y":2.873},{"s":411,"x":0.1782,"y":2.8558},{"s":411,"x":0.1902,"y":2.8478},{"s":411,"x":0.2,"y":2.846},
{"s":412,"x":0.166,"y":2.9},{"s":412,"x":0.1706,"y":2.8755},{"s":412,"x":0.1805,"y":2.8599},{"s":412,"x":0.1912,"y":2.8527},{"s":412,"x":0.2,"y":2.851},
{"s":413,"x":0.17,"y":2.9},{"s":413,"x":0.174,"y":2.878},{"s":413,"x":0.1828,"y":2.864},{"s":413,"x":0.1922,"y":2.8575},{"s":413,"x":0.2,"y":2.856},
{"s":414,"x":0.174,"y":2.9},{"s":414,"x":0.1775,"y":2.8805},{"s":414,"x":0.1851,"y":2.8681},{"s":414,"x":0.1933,"y":2.8623},{"s":414,"x":0.2,"y":2.861},
{"s":415,"x":0.178,"y":2.9},{"s":415,"x":0.181,"y":2.883},{"s":415,"x":0.1874,"y":2.8722},{"s":415,"x":0.1943,"y":2.8672},{"s":415,"x":0.2,"y":2.866},
{"s":416,"x":0.182,"y":2.9},{"s":416,"x":0.1844,"y":2.8855},{"s":416,"x":0.1897,"y":2.8762},{"s":416,"x":0.1953,"y":2.872},{"s":416,"x":0.2,"y":2.871},
{"s":417,"x":0.185,"y":2.9},{"s":417,"x":0.187,"y":2.8875},{"s":417,"x":0.1914,"y":2.8795},{"s":417,"x":0.1961,"y":2.8759},{"s":417,"x":0.2,"y":2.875},
{"s":418,"x":0.188,"y":2.9},{"s":418,"x":0.1896,"y":2.8895},{"s":418,"x":0.1931,"y":2.8828},{"s":418,"x":0.1969,"y":2.8797},{"s":418,"x":0.2,"y":2.879},
{"s":419,"x":0.191,"y":2.9},{"s":419,"x":0.1948,"y":2.8861},{"s":419,"x":0.2,"y":2.883},
{"s":420,"x":0.194,"y":2.9},{"s":420,"x":0.1966,"y":2.8902},{"s":420,"x":0.2,"y":2.888},
{"s":421,"x":0.197,"y":2.9},{"s":421,"x":0.1983,"y":2.8943},{"s":421,"x":0.2,"y":2.893}
]},
"layer":[
{"data":{"values":[{"x":-0.2913,"x2":-0.2913,"y":1.8005,"y2":3.0013},{"x":-0.2913,"x2":0.268,"y":3.0013,"y2":3.0013}]},
 "mark":{"type":"rule","color":"#c9825f","strokeWidth":2.5},
 "encoding":{"x":{"field":"x","type":"quantitative","scale":{"domain":[-0.21,0.21],"nice":false,"zero":false},"axis":null},"x2":{"field":"x2"},"y":{"field":"y","type":"quantitative","scale":{"domain":[2.2,2.9],"nice":false,"zero":false},"axis":null},"y2":{"field":"y2"}}},
{"data":{"values":[{"x":-0.3047,"x2":-0.15,"y":3.0068,"y2":3.0068},{"x":0.162,"x2":0.268,"y":3.0068,"y2":3.0068}]},
 "mark":{"type":"rule","color":"#d3d3d3","strokeWidth":1.5},
 "encoding":{"x":{"field":"x","type":"quantitative","scale":{"domain":[-0.21,0.21],"nice":false,"zero":false},"axis":null},"x2":{"field":"x2"},"y":{"field":"y","type":"quantitative","scale":{"domain":[2.2,2.9],"nice":false,"zero":false},"axis":null},"y2":{"field":"y2"}}},
{"data":{"values":[{"x":-0.2633,"x2":0.2567,"y":2.1186,"y2":2.944}]},
 "mark":{"type":"rect","filled":false,"color":"#cccccc","strokeWidth":1},
 "encoding":{"x":{"field":"x","type":"quantitative","scale":{"domain":[-0.21,0.21],"nice":false,"zero":false},"axis":null},"x2":{"field":"x2"},"y":{"field":"y","type":"quantitative","scale":{"domain":[2.2,2.9],"nice":false,"zero":false},"axis":null},"y2":{"field":"y2"}}},
{"data":{"name":"lines"},
 "mark":{"type":"line","interpolate":"catmull-rom","color":"#f5a530","strokeWidth":1.8},
 "encoding":{
  "x":{"field":"x","type":"quantitative","scale":{"domain":[-0.21,0.21],"nice":false,"zero":false},
   "axis":{"orient":"bottom","values":[-0.2,-0.15,-0.1,-0.05,0,0.05,0.1,0.15,0.2],"labelExpr":"replace(format(datum.value,'.2~f'),'−','-')","title":null,"ticks":false,"grid":true,"gridColor":"#e3e3e3","domain":true,"domainColor":"#000000","domainWidth":1.5,"labelFont":"Liberation Sans","labelFontSize":17,"labelColor":"#4d4d4d","labelPadding":5,"labelFlush":false,"labelOverlap":false,"zindex":0}},
  "y":{"field":"y","type":"quantitative","scale":{"domain":[2.2,2.9],"nice":false,"zero":false},
   "axis":{"orient":"left","values":[2.2,2.3,2.4,2.5,2.6,2.7,2.8,2.9],"format":".1f","title":null,"ticks":false,"grid":true,"gridColor":"#e3e3e3","domain":true,"domainColor":"#000000","domainWidth":1.5,"labelFont":"Liberation Sans","labelFontSize":17,"labelColor":"#4d4d4d","labelPadding":11,"labelOverlap":false,"zindex":0}},
  "detail":{"field":"s","type":"nominal"},
  "order":{"value":null}}},
{"data":{"values":[{"x":-0.2,"y":2.6,"y2":2.9},{"x":-0.2,"y":2.2,"y2":2.5},{"x":0.2,"y":2.6,"y2":2.9},{"x":0.2,"y":2.2,"y2":2.5}]},
 "mark":{"type":"rule","color":"#000000","strokeWidth":3.5},
 "encoding":{
  "x":{"field":"x","type":"quantitative","scale":{"domain":[-0.21,0.21],"nice":false,"zero":false},
   "axis":{"orient":"bottom","values":[-0.2,-0.19,-0.18,-0.17,-0.16,-0.15,-0.14,-0.13,-0.12,-0.11,-0.1,-0.09,-0.08,-0.07,-0.06,-0.05,-0.04,-0.03,-0.02,-0.01,0,0.01,0.02,0.03,0.04,0.05,0.06,0.07,0.08,0.09,0.1,0.11,0.12,0.13,0.14,0.15,0.16,0.17,0.18,0.19,0.2],"title":null,"labels":false,"grid":false,"domain":false,"ticks":true,"tickColor":"#000000","tickWidth":1.2,"tickSize":{"condition":{"test":"abs(datum.value*20-round(datum.value*20))<0.01","value":-13},"value":-6},"zindex":1}},
  "y":{"field":"y","type":"quantitative","scale":{"domain":[2.2,2.9],"nice":false,"zero":false},
   "axis":{"orient":"left","values":[2.2,2.22,2.24,2.26,2.28,2.3,2.32,2.34,2.36,2.38,2.4,2.42,2.44,2.46,2.48,2.5,2.52,2.54,2.56,2.58,2.6,2.62,2.64,2.66,2.68,2.7,2.72,2.74,2.76,2.78,2.8,2.82,2.84,2.86,2.88,2.9],"title":null,"labels":false,"grid":false,"domain":false,"ticks":true,"tickColor":"#000000","tickWidth":1.2,"tickSize":{"condition":{"test":"abs(datum.value*10-round(datum.value*10))<0.01","value":-18},"value":-9},"zindex":1}},
  "y2":{"field":"y2"}}},
{"data":{"values":[{"x":-0.21,"x2":-0.2,"y":2.6},{"x":-0.21,"x2":-0.2,"y":2.5},{"x":0.2,"x2":0.21,"y":2.6},{"x":0.2,"x2":0.21,"y":2.5}]},
 "mark":{"type":"rule","color":"#000000","strokeWidth":2},
 "encoding":{
  "x":{"field":"x","type":"quantitative","scale":{"domain":[-0.21,0.21],"nice":false,"zero":false},
   "axis":{"orient":"top","values":[-0.2,-0.19,-0.18,-0.17,-0.16,-0.15,-0.14,-0.13,-0.12,-0.11,-0.1,-0.09,-0.08,-0.07,-0.06,-0.05,-0.04,-0.03,-0.02,-0.01,0,0.01,0.02,0.03,0.04,0.05,0.06,0.07,0.08,0.09,0.1,0.11,0.12,0.13,0.14,0.15,0.16,0.17,0.18,0.19,0.2],"title":null,"labels":false,"grid":false,"domain":true,"domainColor":"#000000","domainWidth":1.5,"ticks":true,"tickColor":"#000000","tickWidth":1.2,"tickSize":{"condition":{"test":"abs(datum.value*20-round(datum.value*20))<0.01","value":-13},"value":-6},"zindex":1}},
  "x2":{"field":"x2"},
  "y":{"field":"y","type":"quantitative","scale":{"domain":[2.2,2.9],"nice":false,"zero":false},
   "axis":{"orient":"right","values":[2.2,2.22,2.24,2.26,2.28,2.3,2.32,2.34,2.36,2.38,2.4,2.42,2.44,2.46,2.48,2.5,2.52,2.54,2.56,2.58,2.6,2.62,2.64,2.66,2.68,2.7,2.72,2.74,2.76,2.78,2.8,2.82,2.84,2.86,2.88,2.9],"title":null,"labels":false,"grid":false,"domain":true,"domainColor":"#000000","domainWidth":1.5,"ticks":true,"tickColor":"#000000","tickWidth":1.2,"tickSize":{"condition":{"test":"abs(datum.value*10-round(datum.value*10))<0.01","value":-18},"value":-9},"zindex":1}}}},
{"data":{"values":[{"a":"w","x":-0.1985,"x2":0.198,"y":2.9385,"y2":2.9385},{"a":"b","x":-0.24,"x2":-0.24,"y":2.6136,"y2":2.889},{"a":"g","x":-0.24,"x2":-0.24,"y":2.4795,"y2":2.5964}]},
 "mark":{"type":"rule","strokeWidth":3},
 "encoding":{"x":{"field":"x","type":"quantitative","scale":{"domain":[-0.21,0.21],"nice":false,"zero":false},"axis":null},"x2":{"field":"x2"},"y":{"field":"y","type":"quantitative","scale":{"domain":[2.2,2.9],"nice":false,"zero":false},"axis":null},"y2":{"field":"y2"},
  "color":{"field":"a","type":"nominal","scale":{"domain":["w","b","g"],"range":["#c5612f","#d98a62","#b07264"]},"legend":null}}},
{"data":{"values":[{"a":"w","d":"left","x":-0.1993,"y":2.9385},{"a":"w","d":"right","x":0.1987,"y":2.9385},{"a":"b","d":"up","x":-0.24,"y":2.8912},{"a":"b","d":"down","x":-0.24,"y":2.6116},{"a":"g","d":"up","x":-0.24,"y":2.5984},{"a":"g","d":"down","x":-0.24,"y":2.4774}]},
 "mark":{"type":"point","filled":false,"strokeWidth":3,"size":576,"opacity":1},
 "encoding":{"x":{"field":"x","type":"quantitative","scale":{"domain":[-0.21,0.21],"nice":false,"zero":false},"axis":null},"y":{"field":"y","type":"quantitative","scale":{"domain":[2.2,2.9],"nice":false,"zero":false},"axis":null},
  "shape":{"field":"d","type":"nominal","scale":{"domain":["up","down","left","right"],"range":["M-1,1L0,0L1,1","M-1,-1L0,0L1,-1","M1,-1L0,0L1,1","M-1,-1L0,0L-1,1"]},"legend":null},
  "color":{"field":"a","type":"nominal","scale":{"domain":["w","b","g"],"range":["#c0531c","#c45a1c","#a0341c"]},"legend":null}}},
{"data":{"values":[{"t":"4mm","x":0,"y":2.933}]},
 "mark":{"type":"text","font":"Liberation Serif","fontSize":42,"align":"center","baseline":"alphabetic","color":"#000000"},
 "encoding":{"x":{"field":"x","type":"quantitative","scale":{"domain":[-0.21,0.21],"nice":false,"zero":false},"axis":null},"y":{"field":"y","type":"quantitative","scale":{"domain":[2.2,2.9],"nice":false,"zero":false},"axis":null},"text":{"field":"t"}}},
{"data":{"values":[{"t":"B4C=3mm","x":-0.267,"y":2.7547}]},
 "mark":{"type":"text","font":"Liberation Serif","fontSize":33,"align":"center","baseline":"middle","angle":270,"color":"#111111"},
 "encoding":{"x":{"field":"x","type":"quantitative","scale":{"domain":[-0.21,0.21],"nice":false,"zero":false},"axis":null},"y":{"field":"y","type":"quantitative","scale":{"domain":[2.2,2.9],"nice":false,"zero":false},"axis":null},"text":{"field":"t"}}},
{"data":{"values":[{"t":"GAS=1mm","x":-0.267,"y":2.5566}]},
 "mark":{"type":"text","font":"Liberation Serif","fontSize":28,"align":"center","baseline":"middle","angle":270,"color":"#111111"},
 "encoding":{"x":{"field":"x","type":"quantitative","scale":{"domain":[-0.21,0.21],"nice":false,"zero":false},"axis":null},"y":{"field":"y","type":"quantitative","scale":{"domain":[2.2,2.9],"nice":false,"zero":false},"axis":null},"text":{"field":"t"}}},
{"data":{"values":[
  {"t":"Volumetric Simulation (1000 e-) Diffusion ON","x":-0.2407,"y":2.1031},
  {"t":"Good Electron 1000, Out Electron 544","x":-0.2407,"y":2.0613},
  {"t":"Percentage\u00a0 54.4","x":-0.2407,"y":2.0217},
  {"t":"Volumetric Simulation (1000 e-) Diffusion OFF","x":-0.2407,"y":1.9413},
  {"t":"Good Electron 1000, Out Electron 670","x":-0.2407,"y":1.8995},
  {"t":"Percentage 67","x":-0.2407,"y":1.8588}]},
 "mark":{"type":"text","font":"Liberation Serif","fontSize":30,"fontWeight":"bold","align":"left","baseline":"alphabetic","color":"#141414"},
 "encoding":{"x":{"field":"x","type":"quantitative","scale":{"domain":[-0.21,0.21],"nice":false,"zero":false},"axis":null},"y":{"field":"y","type":"quantitative","scale":{"domain":[2.2,2.9],"nice":false,"zero":false},"axis":null},"text":{"field":"t"}}},
{"data":{"values":[{"t":"13","x":0.2187,"y":1.8093}]},
 "mark":{"type":"text","font":"Open Sans","fontSize":24,"align":"center","baseline":"alphabetic","color":"#808080"},
 "encoding":{"x":{"field":"x","type":"quantitative","scale":{"domain":[-0.21,0.21],"nice":false,"zero":false},"axis":null},"y":{"field":"y","type":"quantitative","scale":{"domain":[2.2,2.9],"nice":false,"zero":false},"axis":null},"text":{"field":"t"}}}
],
"resolve":{"axis":{"x":"independent","y":"independent"}}
}
